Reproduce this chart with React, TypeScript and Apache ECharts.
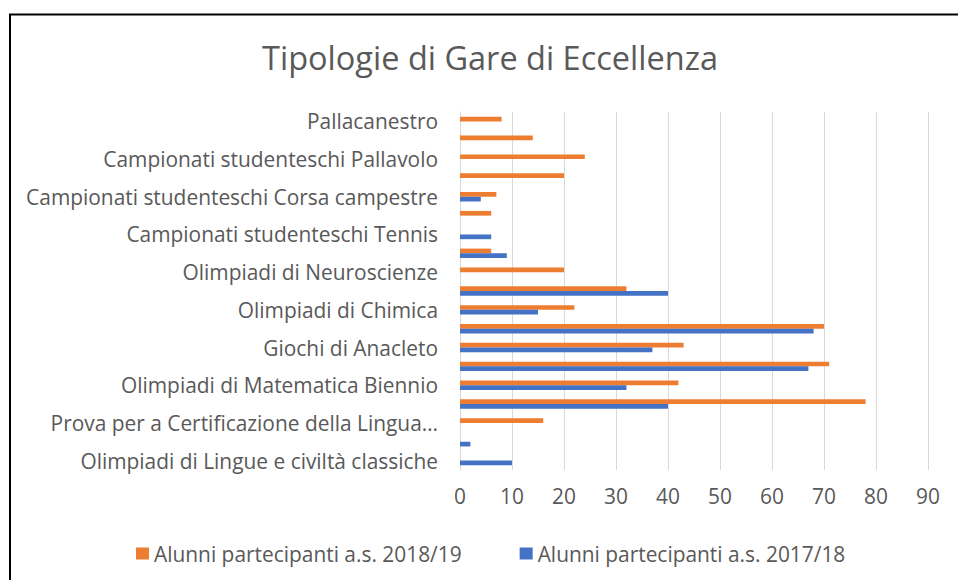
import React, { useEffect, useRef } from "react";
import * as echarts from "echarts";

const categories = [
  "Olimpiadi di Lingue e civiltà classiche",
  "Certamen Latino",
  "Prova per a Certificazione della Lingua Inglese",
  "Olimpiadi di Italiano",
  "Olimpiadi di Matematica Biennio",
  "Olimpiadi di Matematica Triennio",
  "Giochi di Anacleto",
  "Giochi di Archimede",
  "Olimpiadi di Chimica",
  "Olimpiadi di Fisica",
  "Olimpiadi di Neuroscienze",
  "Olimpiadi di Informatica",
  "Campionati studenteschi Tennis",
  "Campionati studenteschi Atletica",
  "Campionati studenteschi Corsa campestre",
  "Campionati studenteschi Calcio",
  "Campionati studenteschi Pallavolo",
  "Campionati studenteschi Nuoto",
  "Pallacanestro",
];

const alunni201718 = [10, 2, 0, 40, 32, 67, 37, 68, 15, 40, 0, 9, 6, 0, 4, 0, 0, 0, 0];
const alunni201819 = [0, 0, 16, 78, 42, 71, 43, 70, 22, 32, 20, 6, 0, 6, 7, 20, 24, 14, 8];

const seriesNames = ["Alunni partecipanti a.s. 2018/19", "Alunni partecipanti a.s. 2017/18"];
const titleText = "Tipologie di Gare di Eccellenza";

const FONT = "Open Sans";
const TEXT = "#595959";
const LABEL_SIZE = 20.9;

export default function App() {
  const ref = useRef<HTMLDivElement>(null);
  useEffect(() => {
    if (!ref.current) return;
    const chart = echarts.init(ref.current, null, { renderer: "svg" });
    chart.setOption({
      animation: false,
      backgroundColor: "#ffffff",
      title: {
        text: titleText,
        left: 485,
        textAlign: "center",
        top: 36,
        textStyle: { fontFamily: FONT, fontSize: 32.5, fontWeight: "normal", color: TEXT },
      },
      legend: {
        data: seriesNames,
        left: 131,
        top: 538,
        icon: "rect",
        itemWidth: 13,
        itemHeight: 12,
        itemGap: 58,
        textStyle: { fontFamily: FONT, fontSize: LABEL_SIZE, color: TEXT },
      },
      grid: { left: 460, right: 30, top: 112, bottom: 110, containLabel: false },
      xAxis: {
        type: "value",
        min: 0,
        max: 90,
        interval: 10,
        axisLine: { show: false },
        axisTick: { show: false },
        splitLine: { show: true, lineStyle: { color: "#d9d9d9", width: 1 } },
        axisLabel: { fontFamily: FONT, fontSize: LABEL_SIZE, color: TEXT, margin: 15 },
      },
      yAxis: {
        type: "category",
        data: categories,
        axisLine: { show: true, lineStyle: { color: "#d9d9d9", width: 1 } },
        axisTick: { show: false },
        axisLabel: {
          interval: 1,
          fontFamily: FONT,
          fontSize: LABEL_SIZE,
          color: TEXT,
          margin: 22,
          formatter: (v: string) =>
            v.startsWith("Prova per a") ? "Prova per a Certificazione della Lingua…" : v,
        },
      },
      series: [
        {
          name: seriesNames[0],
          type: "bar",
          data: alunni201819,
          itemStyle: { color: "#ED7D31" },
          barGap: "0%",
          barCategoryGap: "50%",
        },
        {
          name: seriesNames[1],
          type: "bar",
          data: alunni201718,
          itemStyle: { color: "#4472C4" },
          barGap: "0%",
          barCategoryGap: "50%",
        },
      ],
      graphic: [
        {
          type: "rect",
          shape: { x: 10, y: 14.5, width: 1000, height: 700 },
          style: { fill: "none", stroke: "#000000", lineWidth: 2 },
          silent: true,
        },
      ],
    });
    return () => chart.dispose();
  }, []);
  return (
    <div
      ref={ref}
      style={{ position: "fixed", left: 0, top: 0, width: 958, height: 580 }}
    />
  );
}
